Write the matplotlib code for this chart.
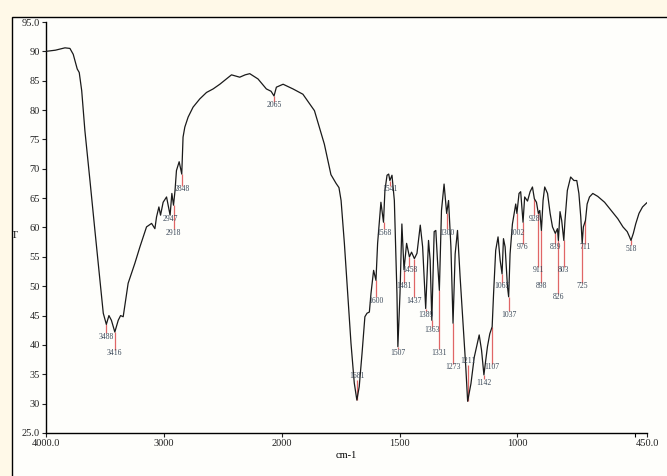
import numpy as np
import matplotlib
matplotlib.use("Agg")
import matplotlib.pyplot as plt
from matplotlib.patches import Rectangle


# ==============================
# DATA
# ==============================

wavenumber = [
    4000, 3960, 3920, 3881, 3839, 3797, 3769, 3735, 3718, 3697, 3670, 3627,
    3585, 3542, 3514, 3488, 3466, 3445, 3416, 3387, 3367, 3345, 3303, 3246,
    3203, 3147, 3104, 3076, 3062, 3042, 3028, 3006, 2977, 2947, 2932, 2918,
    2905, 2893, 2870, 2848, 2837, 2822, 2794, 2752, 2695, 2638, 2582, 2525,
    2475, 2426, 2356, 2310, 2271, 2201, 2130, 2090, 2065, 2045, 1994, 1952,
    1910, 1861, 1819, 1791, 1769, 1757, 1748, 1734, 1720, 1706, 1692, 1681,
    1671, 1659, 1647, 1638, 1628, 1621, 1610, 1600, 1593, 1579, 1568, 1562,
    1553, 1546, 1541, 1532, 1522, 1511, 1507, 1498, 1490, 1481, 1470, 1458,
    1449, 1437, 1426, 1412, 1402, 1389, 1377, 1370, 1363, 1353, 1346, 1339,
    1331, 1322, 1311, 1300, 1292, 1282, 1273, 1264, 1254, 1243, 1228, 1219,
    1211, 1197, 1183, 1162, 1152, 1142, 1127, 1117, 1107, 1101, 1092, 1082,
    1073, 1065, 1059, 1052, 1042, 1037, 1031, 1021, 1007, 1002, 993, 986,
    976, 969, 957, 946, 936, 928, 919, 911, 905, 898, 891, 884,
    872, 861, 851, 839, 830, 826, 819, 812, 803, 798, 788, 774,
    760, 748, 739, 731, 725, 720, 711, 704, 694, 680, 659, 630,
    602, 574, 552, 534, 524, 518, 508, 498, 484, 469, 451,
]

transmittance = [
    90.0, 90.1, 90.2, 90.4, 90.6, 90.5, 89.5, 87.0, 86.4, 83.3, 76.5, 68.0,
    59.5, 51.0, 45.4, 43.5, 45.0, 44.2, 42.2, 44.2, 45.0, 44.8, 50.5, 53.9,
    56.7, 60.1, 60.7, 59.8, 61.8, 63.5, 62.1, 64.3, 65.2, 62.1, 65.8, 63.8,
    66.3, 69.7, 71.2, 69.1, 75.4, 77.1, 78.8, 80.5, 81.9, 83.0, 83.6, 84.4,
    85.2, 86.0, 85.6, 86.0, 86.2, 85.3, 83.6, 83.2, 82.4, 83.9, 84.4, 83.6,
    82.7, 79.9, 74.2, 69.0, 67.5, 66.8, 64.6, 57.3, 48.8, 40.3, 33.5, 30.6,
    32.9, 38.6, 44.8, 45.4, 45.6, 48.8, 52.7, 51.0, 57.3, 64.3, 60.9, 66.3,
    68.9, 69.1, 68.0, 68.9, 64.6, 48.8, 39.7, 48.8, 60.6, 52.8, 57.3, 55.0,
    55.8, 54.7, 55.6, 60.4, 56.7, 46.2, 57.8, 54.4, 44.2, 59.3, 59.5, 54.4,
    49.3, 62.9, 67.4, 62.4, 64.6, 56.7, 43.7, 55.5, 59.5, 51.6, 41.9, 36.3,
    30.4, 33.4, 37.9, 41.7, 39.1, 34.9, 39.7, 41.9, 43.1, 48.7, 56.1, 58.4,
    54.4, 52.1, 58.1, 56.7, 49.9, 48.2, 55.5, 60.6, 64.0, 62.4, 65.8, 66.1,
    60.9, 65.2, 64.5, 66.1, 66.9, 64.9, 64.3, 62.4, 62.9, 59.5, 64.6, 66.9,
    65.8, 62.4, 60.1, 59.0, 59.8, 57.8, 62.7, 61.2, 57.8, 61.2, 66.3, 68.6,
    68.0, 68.0, 65.8, 61.8, 57.3, 60.1, 61.2, 64.0, 65.2, 65.8, 65.3, 64.3,
    62.9, 61.5, 60.1, 59.3, 58.4, 57.8, 59.0, 60.6, 62.4, 63.5, 64.2,
]

peak_wn = [3488, 3416, 2947, 2918, 2848, 2065, 1681, 1600, 1568, 1541,
           1507, 1481, 1458, 1437, 1389, 1363, 1331, 1300, 1273, 1211,
           1142, 1107, 1065, 1037, 1002, 976, 928, 911, 898, 839,
           826, 803, 725, 711, 518]
peak_text = [str(p) for p in peak_wn]
label_t = [41.4, 38.6, 61.5, 59.1, 66.5, 80.8, 34.7, 47.5, 59.1, 66.5,
           38.7, 50.0, 52.7, 47.5, 45.1, 42.5, 38.7, 59.1, 36.2, 37.2,
           33.6, 36.2, 50.0, 45.1, 59.1, 56.6, 61.5, 52.7, 50.0, 56.6,
           48.1, 52.7, 50.0, 56.6, 56.4]

x_ticks = [4000, 3000, 2000, 1500, 1000, 450]
x_tick_labels = ["4000.0", "3000", "2000", "1500", "1000", "450.0"]
y_ticks = [25, 30, 35, 40, 45, 50, 55, 60, 65, 70, 75, 80, 85, 90, 95]
y_tick_labels = ["25.0"] + [str(v) for v in y_ticks[1:-1]] + ["95.0"]


# ==============================
# X SCALE: 4000-2000 compressed 2x
# ==============================

def fwd(x):
    x = np.asarray(x, dtype=float)
    return np.where(x <= 2000, x, 2000 + (x - 2000) / 2.0)


def inv(u):
    u = np.asarray(u, dtype=float)
    return np.where(u <= 2000, u, 2000 + (u - 2000) * 2.0)


# ==============================
# PLOT
# ==============================

plt.rcParams["font.family"] = ["Liberation Serif", "DejaVu Serif"]

W, H = 667, 476
fig = plt.figure(figsize=(W / 100, H / 100), dpi=100, facecolor="#fff9e8")

frame = Rectangle((12 / W, -0.1), 1.1, 1 - 17 / H + 0.1, transform=fig.transFigure,
                  facecolor="#fefefb", edgecolor="black", linewidth=1.0, zorder=-5)
fig.patches.append(frame)

ax = fig.add_axes([46 / W, 1 - 433 / H, (647 - 46) / W, (433 - 22) / H])
ax.set_zorder(2)
ax.patch.set_alpha(0)

ax.set_xscale("function", functions=(fwd, inv))
ax.set_xlim(4000, 450)
ax.set_ylim(25, 95)

ax.plot(wavenumber, transmittance, color="#1a1a1a", linewidth=0.9, zorder=3)

wn_asc = np.array(wavenumber[::-1])
t_asc = np.array(transmittance[::-1])
gap = 0.6
for pk, txt, lt in zip(peak_wn, peak_text, label_t):
    y0 = np.interp(pk, wn_asc, t_asc)
    if lt < y0:
        ax.vlines(pk, lt + gap, y0, color="#e06666", linewidth=0.9, zorder=2)
    else:
        ax.vlines(pk, y0, lt - gap, color="#e06666", linewidth=0.9, zorder=2)
    ax.text(pk, lt, txt, ha="center", va="center", fontsize=5.5,
            color="#3a4858", zorder=4)

for side in ["top", "right"]:
    ax.spines[side].set_visible(False)
for side in ["left", "bottom"]:
    ax.spines[side].set_linewidth(1.0)

ax.set_xticks(x_ticks)
ax.set_xticklabels(x_tick_labels)
ax.set_xticks([500], minor=True)
ax.set_yticks(y_ticks)
ax.set_yticklabels(y_tick_labels)
ax.tick_params(axis="both", direction="out", length=3, width=0.8,
               labelsize=7.5, pad=1.5, colors="#222222")
ax.tick_params(axis="x", which="minor", length=3, width=0.8)
ax.tick_params(axis="y", which="minor", left=False)

ax.set_xlabel("cm-1", fontsize=7.5, labelpad=2)

# y label sits half outside the frame, as in the source
ylab = fig.text(19 / W, 1 - 236 / H, "%T", ha="right", va="center", fontsize=7.5)
ylab.set_clip_path(frame)
ylab.set_zorder(3)

fig.savefig("out.png", dpi=100, facecolor=fig.get_facecolor())
